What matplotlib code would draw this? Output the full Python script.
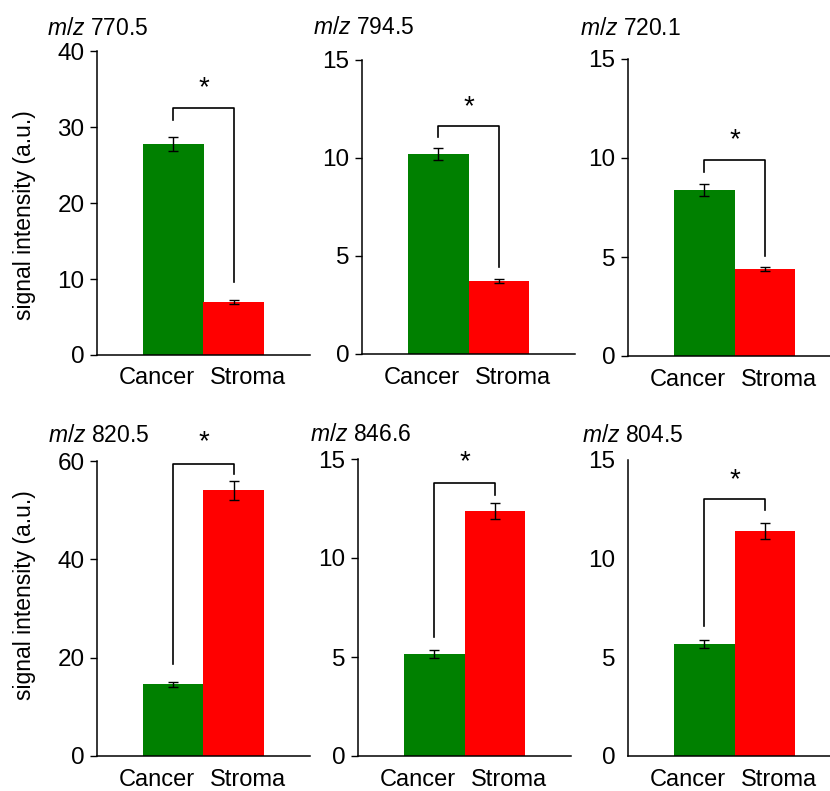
import matplotlib
matplotlib.use("Agg")
import matplotlib.pyplot as plt
from matplotlib.transforms import ScaledTranslation

plt.rcParams['font.family'] = ['Liberation Sans', 'DejaVu Sans']
plt.rcParams['mathtext.fontset'] = 'custom'
plt.rcParams['mathtext.it'] = 'Liberation Sans:italic'
plt.rcParams['mathtext.rm'] = 'Liberation Sans'

# ---- data ----
categories = ["Cancer", "Stroma"]
mz_labels = ["770.5", "794.5", "720.1", "820.5", "846.6", "804.5"]
cancer_mean = [27.8, 10.2, 8.38, 14.6, 5.15, 5.69]
cancer_err = [0.9, 0.32, 0.31, 0.5, 0.22, 0.2]
stroma_mean = [6.95, 3.72, 4.39, 54.0, 12.37, 11.41]
stroma_err = [0.25, 0.11, 0.11, 1.9, 0.4, 0.4]
y_max = [40, 15, 15, 60, 15, 15]
y_step = [10, 5, 5, 20, 5, 5]
# significance brackets: top of bracket, lower ends of left/right legs, star height
bracket_top = [32.5, 11.65, 9.88, 59.4, 13.8, 13.0]
bracket_left_end = [30.9, 11.09, 9.31, 18.8, 6.0, 6.6]
bracket_right_end = [9.6, 4.42, 5.05, 57.3, 13.2, 12.46]
star_y = [35.1, 12.6, 10.9, 63.8, 14.86, 13.97]

colors = ["#008000", "#ff0000"]

W, H = 830, 791
fig = plt.figure(figsize=(W / 100, H / 100), dpi=100)

# axes boxes in pixels: left, right, top, bottom
boxes = [(97, 310, 51, 355), (362, 575, 60, 354), (628, 841, 59, 356),
         (97, 310, 461, 756), (358, 571, 459, 756), (628, 841, 460, 756)]
title_pos = [(47, 35), (313, 34), (580, 35), (48, 442), (310, 441), (582, 442)]

for i in range(6):
    l, r, t, b = boxes[i]
    ax = fig.add_axes([l / W, 1 - b / H, (r - l) / W, (b - t) / H])
    x = [0, 1]
    ax.bar(x, [cancer_mean[i], stroma_mean[i]], width=1.0, color=colors,
           yerr=[cancer_err[i], stroma_err[i]],
           error_kw=dict(ecolor='black', elinewidth=1.0, capsize=3.5, capthick=1.0),
           zorder=2)
    ax.set_xlim(-1.25, 2.25)
    ax.set_ylim(0, y_max[i])
    ax.set_yticks(list(range(0, y_max[i] + 1, y_step[i])))
    for s in ['top', 'right']:
        ax.spines[s].set_visible(False)
    for s in ['left', 'bottom']:
        ax.spines[s].set_linewidth(1.1)
    ax.tick_params(axis='y', length=5, width=1.0, pad=4, labelsize=17.5)
    if i == 5:
        ax.tick_params(axis='y', length=0, pad=9)
    ax.tick_params(axis='x', length=0, pad=9, labelsize=17)
    ax.set_xticks(x)
    ax.set_xticklabels(categories)
    offs = [-11.5, 10.0]
    for lab, dx in zip(ax.get_xticklabels(), offs):
        lab.set_transform(lab.get_transform() + ScaledTranslation(dx / 72, 0, fig.dpi_scale_trans))

    # bracket
    ax.plot([0, 0, 1, 1],
            [bracket_left_end[i], bracket_top[i], bracket_top[i], bracket_right_end[i]],
            color='black', lw=1.2, clip_on=False, zorder=3)
    ax.text(0.5, star_y[i], "*", ha='center', va='center', fontsize=20,
            clip_on=False)

    tx, ty = title_pos[i]
    fig.text(tx / W, 1 - ty / H, r"$m/z$ " + mz_labels[i], fontsize=16.5,
             ha='left', va='baseline')

fig.text(24 / W, 1 - 215 / H, "signal intensity (a.u.)", rotation=90,
         ha='center', va='center', fontsize=16.5)
fig.text(24 / W, 1 - 595 / H, "signal intensity (a.u.)", rotation=90,
         ha='center', va='center', fontsize=16.5)

fig.savefig("out.png", dpi=100)
